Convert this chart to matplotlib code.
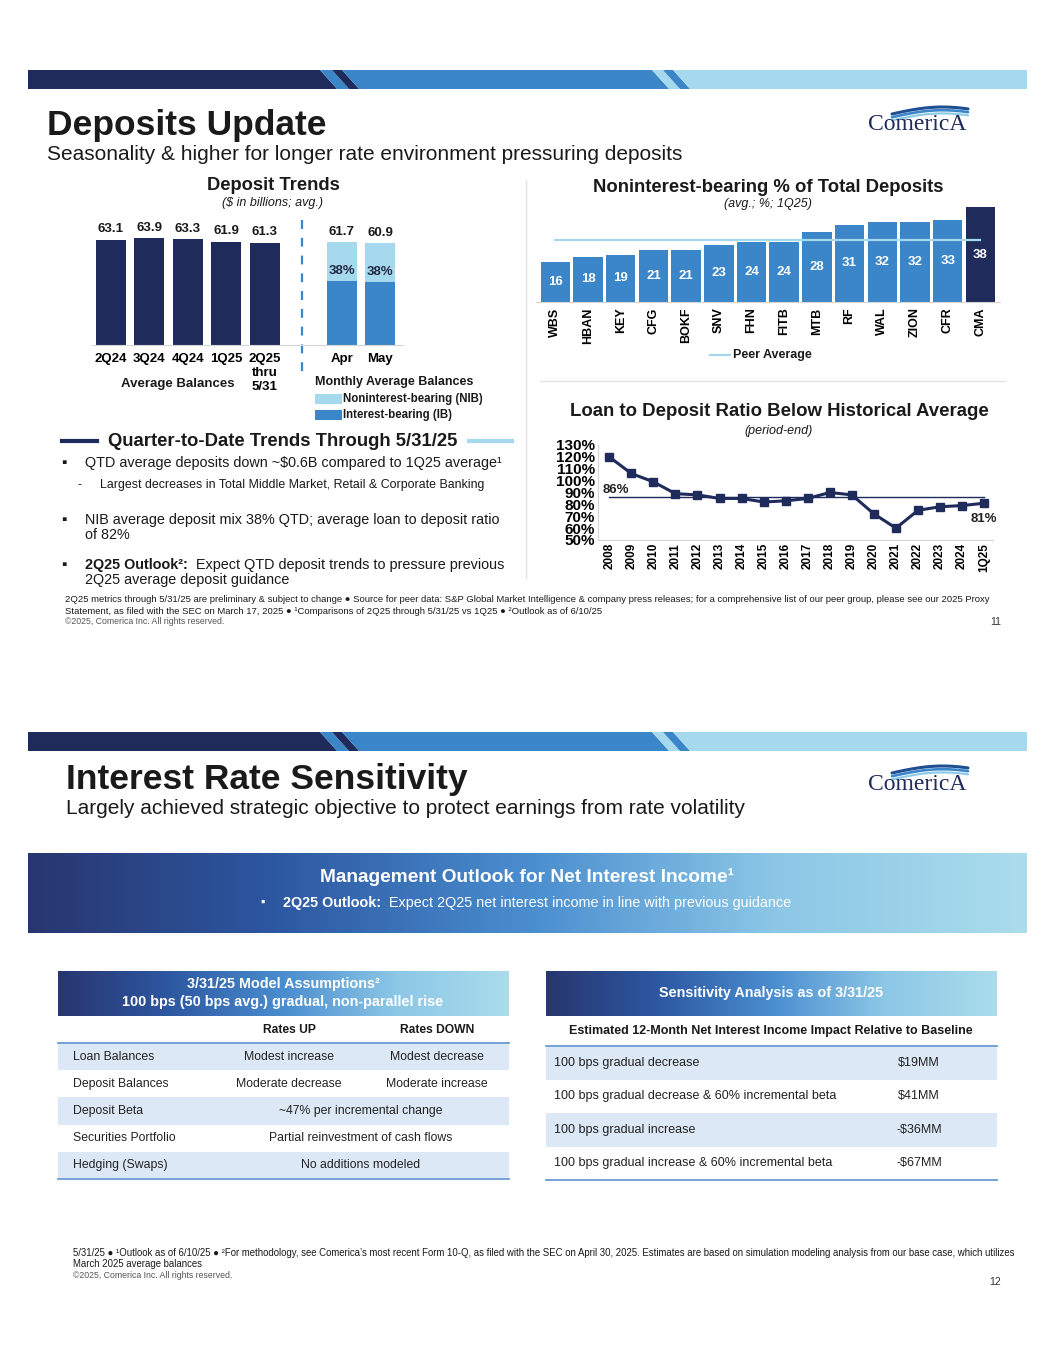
import matplotlib.pyplot as plt
import numpy as np
from matplotlib.colors import LinearSegmentedColormap
from matplotlib.patches import Rectangle, Polygon

plt.rcParams['font.family'] = ['Liberation Sans', 'DejaVu Sans']
NARROW = ['Liberation Sans Narrow', 'Liberation Sans', 'DejaVu Sans']

W, H = 1055, 1365

NAVY = '#1f2b5b'
BLUE = '#3b86c8'
LIGHT = '#a7d9ee'
SHADE = '#dde8f6'
RULE = '#6a9bd4'
TXT = '#1a1a1a'
GRID = '#e4e4e4'

# ---- data: deposit trends ($bn, avg.)
quarters = ['2Q24', '3Q24', '4Q24', '1Q25', '2Q25\nthru\n5/31']
quarter_avg = [63.1, 63.9, 63.3, 61.9, 61.3]
months = ['Apr', 'May']
month_total = [61.7, 60.9]
month_nib_pct = [38, 38]

# ---- data: noninterest-bearing % of total deposits (1Q25)
peers = ['WBS', 'HBAN', 'KEY', 'CFG', 'BOKF', 'SNV', 'FHN', 'FITB', 'MTB',
         'RF', 'WAL', 'ZION', 'CFR', 'CMA']
nib_share = [16, 18, 19, 21, 21, 23, 24, 24, 28, 31, 32, 32, 33, 38]

# ---- data: loan to deposit ratio (period-end, %)
years = ['2008', '2009', '2010', '2011', '2012', '2013', '2014', '2015', '2016',
         '2017', '2018', '2019', '2020', '2021', '2022', '2023', '2024', '1Q25']
ltd_ratio = [120, 106, 99, 89, 88, 85, 85, 82, 83, 85, 90, 88, 72, 60, 75, 78, 79, 81]
ltd_hist_avg = 86

# ---- data: tables
assump_cols = ['Rates UP', 'Rates DOWN']
assump_rows = ['Loan Balances', 'Deposit Balances', 'Deposit Beta',
               'Securities Portfolio', 'Hedging (Swaps)']
assump_vals = [('Modest increase', 'Modest decrease'),
               ('Moderate decrease', 'Moderate increase'),
               ('~47% per incremental change',),
               ('Partial reinvestment of cash flows',),
               ('No additions modeled',)]
sens_rows = ['100 bps gradual decrease',
             '100 bps gradual decrease & 60% incremental beta',
             '100 bps gradual increase',
             '100 bps gradual increase & 60% incremental beta']
sens_vals = ['$19MM', '$41MM', '-$36MM', '-$67MM']


def px(x, y, w, h):
    return [x / W, 1 - (y + h) / H, w / W, h / H]


fig = plt.figure(figsize=(W / 100, H / 100), dpi=100)
bg = fig.add_axes([0, 0, 1, 1])
bg.axis('off')

grad = LinearSegmentedColormap.from_list(
    'grad', ['#28366f', '#2d58a2', '#4a8dcf', '#8cc7e6', '#aadcec'])
ramp = np.linspace(0, 1, 256).reshape(1, -1)


def t(x, y, s, size, bold=False, ha='left', va='center', color=TXT, **kw):
    return bg.text(x, y, s, fontsize=size, fontweight='bold' if bold else 'normal',
                   ha=ha, va=va, color=color, **kw)


def banner(y0, y1):
    s = (y1 - y0) * 0.9
    segs = [(28, 320, NAVY), (320, 332, BLUE), (332, 342, NAVY),
            (342, 652, BLUE), (652, 663, LIGHT), (663, 673, BLUE), (673, 1027, LIGHT)]
    for i, (a, b, c) in enumerate(segs):
        a2 = a if i == 0 else a + s
        b2 = b if i == len(segs) - 1 else b + s
        bg.add_patch(Polygon([(a, y0), (b, y0), (b2, y1), (a2, y1)],
                             closed=True, fc=c, ec='none'))


def logo(x, y):
    t(x, y, 'ComericA', 17, color=NAVY, family=['Liberation Serif', 'DejaVu Serif'])
    xs = np.linspace(x + 24, x + 100, 60)
    for k, c in enumerate(['#1f4e93', '#3b86c8', '#8fcbe8']):
        ys = y - 11 - 6 * np.sin(np.pi * (xs - xs[0]) / 95) + k * 3.2 - (xs - xs[0]) * 0.02
        bg.plot(xs, ys, color=c, lw=2.2 - k * 0.3, solid_capstyle='round')


def gradbox(x0, y0, x1, y1):
    bg.imshow(ramp, cmap=grad, aspect='auto', extent=(x0, x1, y1, y0), zorder=1)


# =================== slide 11 ===================
banner(70, 89)
t(47, 125, 'Deposits Update', 25.5, bold=True, family=NARROW)
t(47, 154, 'Seasonality & higher for longer rate environment pressuring deposits', 15,
  family=NARROW)
logo(868, 125)

bg.plot([526, 526], [180, 578], color=GRID, lw=1)
bg.plot([540, 1005], [381, 381], color=GRID, lw=1)

# Deposit trends
t(273, 185, 'Deposit Trends', 13.2, bold=True, ha='center')
t(273, 203, '($ in billions; avg.)', 9, ha='center', style='italic')

ax1 = fig.add_axes(px(92, 228, 311, 117))
qx = np.arange(len(quarters))
mx = np.arange(len(months)) + len(quarters) + 1
nib = np.array(month_total) * np.array(month_nib_pct) / 100
ib = np.array(month_total) - nib
ax1.bar(qx, quarter_avg, width=0.78, color=NAVY)
ax1.bar(mx, ib, width=0.78, color=BLUE)
ax1.bar(mx, nib, bottom=ib, width=0.78, color=LIGHT)
for x, v in zip(qx, quarter_avg):
    ax1.annotate(f'{v:.1f}', (x, v), xytext=(0, 3), textcoords='offset points',
                 ha='center', va='bottom', fontsize=9.5, fontweight='bold', color=TXT)
for x, v, b, p in zip(mx, month_total, ib, month_nib_pct):
    ax1.annotate(f'{v:.1f}', (x, v), xytext=(0, 3), textcoords='offset points',
                 ha='center', va='bottom', fontsize=9.5, fontweight='bold', color=TXT)
    ax1.annotate(f'{p}%', (x, b), xytext=(0, 3), textcoords='offset points',
                 ha='center', va='bottom', fontsize=9.5, fontweight='bold', color='#222b45')
ax1.set_ylim(0, 70)
ax1.set_xlim(-0.49, 7.59)
ax1.set_xticks(list(qx) + list(mx))
ax1.set_xticklabels(quarters + months, fontsize=9.5, fontweight='bold', linespacing=1.2)
ax1.tick_params(axis='x', length=0, pad=6)
ax1.set_yticks([])
for sp in ['left', 'right', 'top']:
    ax1.spines[sp].set_visible(False)
ax1.spines['bottom'].set_color('#d5d5d5')
ax1.patch.set_alpha(0)

bg.plot([302, 302], [220, 374], color=BLUE, lw=1.6, ls=(0, (4, 4)))
t(178, 384, 'Average Balances', 9.5, bold=True, ha='center')
t(315, 382, 'Monthly Average Balances', 9, bold=True)
bg.add_patch(Rectangle((315, 394), 27, 10, fc=LIGHT, ec='none'))
bg.add_patch(Rectangle((315, 410), 27, 10, fc=BLUE, ec='none'))
t(343, 399, 'Noninterest-bearing (NIB)', 8.3, bold=True)
t(343, 415, 'Interest-bearing (IB)', 8.3, bold=True)

# Noninterest-bearing %
t(768, 187, 'Noninterest-bearing % of Total Deposits', 13.3, bold=True, ha='center')
t(768, 204, '(avg.; %; 1Q25)', 9, ha='center', style='italic')

ax2 = fig.add_axes(px(536, 200, 464, 101.7))
px_ = np.arange(len(peers))
cols = [BLUE] * (len(peers) - 1) + [NAVY]
ax2.bar(px_, nib_share, width=0.9, color=cols)
peer_avg = np.mean(nib_share[:-1])
ax2.plot([px_[0], px_[-1]], [peer_avg, peer_avg], color=LIGHT, lw=1.6, zorder=3)
for x, v in zip(px_, nib_share):
    ax2.text(x, v / 2, str(v), ha='center', va='center', color='white',
             fontsize=9.5, fontweight='bold', zorder=4)
ax2.set_ylim(0, 41)
ax2.set_xlim(-0.59, 13.6)
ax2.set_xticks(px_)
ax2.set_xticklabels(peers, rotation=90, fontsize=9, fontweight='bold')
ax2.tick_params(axis='x', length=0, pad=4)
ax2.set_yticks([])
for sp in ['left', 'right', 'top']:
    ax2.spines[sp].set_visible(False)
ax2.spines['bottom'].set_color('#d5d5d5')
ax2.patch.set_alpha(0)
bg.plot([710, 730], [355, 355], color=LIGHT, lw=1.6)
t(733, 355, 'Peer Average', 9, bold=True)

# Loan to deposit ratio
t(779, 412, 'Loan to Deposit Ratio Below Historical Average', 13.4, bold=True, ha='center')
t(779, 431, '(period-end)', 9, ha='center', style='italic')

ax3 = fig.add_axes(px(598, 445, 395, 95))
yx = np.arange(len(years))
ax3.plot([yx[0], yx[-1]], [ltd_hist_avg, ltd_hist_avg], color=NAVY, lw=1)
ax3.plot(yx, ltd_ratio, color=NAVY, lw=2.2, marker='s', ms=6)
ax3.annotate(f'{ltd_hist_avg}%', (yx[0], ltd_hist_avg), xytext=(-5, 1),
             textcoords='offset points', ha='left', va='bottom',
             fontsize=9.5, fontweight='bold', color='#222')
ax3.annotate(f'{ltd_ratio[-1]}%', (yx[-1], ltd_ratio[-1]), xytext=(0, -7),
             textcoords='offset points', ha='center', va='top',
             fontsize=9.5, fontweight='bold', color='#222')
ax3.set_ylim(50, 130)
ax3.set_xlim(-0.51, 17.4)
ax3.set_yticks(np.arange(50, 131, 10))
ax3.set_yticklabels([f'{v}%' for v in range(50, 131, 10)], fontsize=11, fontweight='bold')
ax3.set_xticks(yx)
ax3.set_xticklabels(years, rotation=90, fontsize=8.5, fontweight='bold')
ax3.tick_params(length=0, pad=2)
for sp in ['right', 'top']:
    ax3.spines[sp].set_visible(False)
for sp in ['left', 'bottom']:
    ax3.spines[sp].set_color('#d5d5d5')
ax3.patch.set_alpha(0)

# QTD trends text
t(283, 441, 'Quarter-to-Date Trends Through 5/31/25', 13.3, bold=True, ha='center')
bg.plot([62, 97], [441, 441], color=NAVY, lw=3)
bg.plot([469, 512], [441, 441], color=LIGHT, lw=3)
t(61, 463, '\u25aa', 11)
t(85, 463, 'QTD average deposits down ~$0.6B compared to 1Q25 average\u00b9', 10.4)
t(77, 485, '-', 8.9)
t(100, 485, 'Largest decreases in Total Middle Market, Retail & Corporate Banking', 8.9)
t(61, 520, '\u25aa', 11)
t(85, 520, 'NIB average deposit mix 38% QTD; average loan to deposit ratio', 10.4)
t(85, 535, 'of 82%', 10.4)
t(61, 565, '\u25aa', 11)
b = t(85, 572, '2Q25 Outlook\u00b2:', 10.4, bold=True, va='bottom')
bg.annotate('  Expect QTD deposit trends to pressure previous', xy=(1, 0), xycoords=b,
            ha='left', va='bottom', fontsize=10.4, color=TXT)
t(85, 580, '2Q25 average deposit guidance', 10.4)

t(65, 600, '2Q25 metrics through 5/31/25 are preliminary & subject to change \u25cf Source for peer data: '
  'S&P Global Market Intelligence & company press releases; for a comprehensive list of our peer group, '
  'please see our 2025 Proxy', 6.8, family=NARROW)
t(65, 612, 'Statement, as filed with the SEC on March 17, 2025 \u25cf \u00b9Comparisons of 2Q25 through '
  '5/31/25 vs 1Q25 \u25cf \u00b2Outlook as of 6/10/25', 6.8, family=NARROW)
t(65, 622, '\u00a92025, Comerica Inc. All rights reserved.', 6.3, family=NARROW, color='#555')
t(1001, 622, '11', 7.5, ha='right', color='#333')

# =================== slide 12 ===================
banner(732, 751)
t(66, 779, 'Interest Rate Sensitivity', 25.5, bold=True, family=NARROW)
t(66, 808, 'Largely achieved strategic objective to protect earnings from rate volatility',
  15, family=NARROW)
logo(868, 784)

gradbox(28, 853, 1027, 933)
t(527, 877, 'Management Outlook for Net Interest Income\u00b9', 13.8, bold=True, ha='center',
  color='white', family=NARROW)
t(260, 903, '\u25aa', 9, color='white')
b2 = t(283, 910, '2Q25 Outlook:', 10.4, bold=True, va='bottom', color='white', family=NARROW)
bg.annotate('  Expect 2Q25 net interest income in line with previous guidance', xy=(1, 0),
            xycoords=b2, ha='left', va='bottom', fontsize=10.4, color='white', family=NARROW)

# left table
gradbox(58, 971, 509, 1016)
t(283, 984, '3/31/25 Model Assumptions\u00b2', 10.4, bold=True, ha='center', color='white')
t(283, 1002, '100 bps (50 bps avg.) gradual, non-parallel rise', 10.4, bold=True,
  ha='center', color='white')
t(289, 1030, assump_cols[0], 8.7, bold=True, ha='center')
t(437, 1030, assump_cols[1], 8.7, bold=True, ha='center')
rh = (1179 - 1043) / len(assump_rows)
for i, (name, vals) in enumerate(zip(assump_rows, assump_vals)):
    y0 = 1043 + i * rh
    if i % 2 == 0:
        bg.add_patch(Rectangle((58, y0), 451, rh, fc=SHADE, ec='none'))
    yc = y0 + rh / 2
    t(73, yc, name, 8.8, color='#222')
    if len(vals) == 2:
        t(289, yc, vals[0], 8.8, ha='center', color='#222')
        t(437, yc, vals[1], 8.8, ha='center', color='#222')
    else:
        t(361, yc, vals[0], 8.8, ha='center', color='#222')
bg.plot([58, 509], [1043, 1043], color=RULE, lw=1.3)
bg.plot([58, 509], [1179, 1179], color=RULE, lw=1.3)

# right table
gradbox(546, 971, 997, 1016)
t(771, 993, 'Sensitivity Analysis as of 3/31/25', 10.4, bold=True, ha='center', color='white')
t(771, 1031, 'Estimated 12-Month Net Interest Income Impact Relative to Baseline', 9,
  bold=True, ha='center')
rh2 = (1180 - 1046) / len(sens_rows)
for i, (name, v) in enumerate(zip(sens_rows, sens_vals)):
    y0 = 1046 + i * rh2
    if i % 2 == 0:
        bg.add_patch(Rectangle((546, y0), 451, rh2, fc=SHADE, ec='none'))
    yc = y0 + rh2 / 2
    t(554, yc, name, 9, color='#222')
    t(919, yc, v, 9, ha='center', color='#222')
bg.plot([546, 997], [1046, 1046], color=RULE, lw=1.3)
bg.plot([546, 997], [1180, 1180], color=RULE, lw=1.3)

t(73, 1253, '5/31/25 \u25cf \u00b9Outlook as of 6/10/25 \u25cf \u00b2For methodology, see Comerica\u2019s most '
  'recent Form 10-Q, as filed with the SEC on April 30, 2025. Estimates are based on simulation '
  'modeling analysis from our base case, which utilizes', 6.9, family=NARROW)
t(73, 1264, 'March 2025 average balances', 6.9, family=NARROW)
t(73, 1275, '\u00a92025, Comerica Inc. All rights reserved.', 6.3, family=NARROW, color='#555')
t(1001, 1282, '12', 7.5, ha='right', color='#333')

bg.set_xlim(0, W)
bg.set_ylim(H, 0)

fig.savefig('out.png', dpi=100, facecolor='white')
